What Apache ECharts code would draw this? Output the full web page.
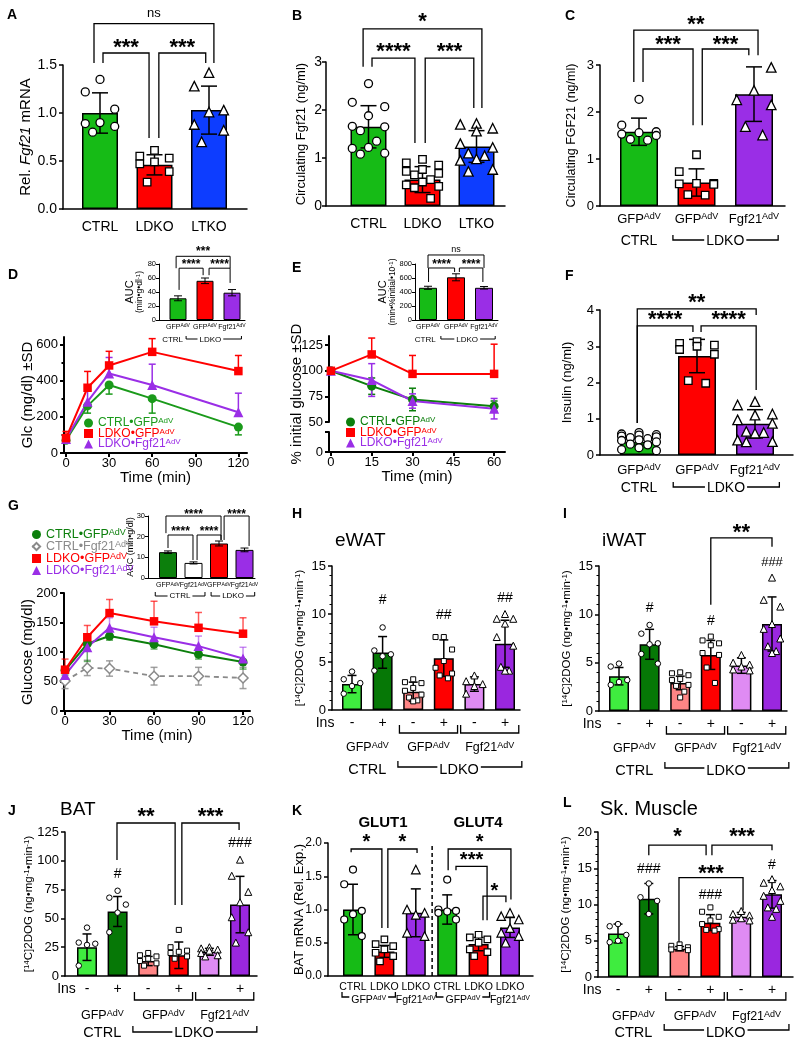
<!DOCTYPE html>
<html>
<head>
<meta charset="utf-8">
<title>Fgf21 panels</title>
<script src="https://cdn.jsdelivr.net/npm/echarts@6.0.0/dist/echarts.min.js"></script>
<style>
html, body { margin: 0; padding: 0; background: #fff; }
#chart { width: 802px; height: 1050px; }
</style>
</head>
<body>
<div id="chart"></div>
<script>
// ---------- values ----------
// A  Rel. Fgf21 mRNA
const aGroups = ['CTRL', 'LDKO', 'LTKO']
const aMean = [1.0, 0.46, 1.03]
const aSD = [0.21, 0.105, 0.25]
const aPts = [
  [1.35, 1.22, 1.04, 0.9, 0.89, 0.86, 0.8],
  [0.61, 0.55, 0.53, 0.49, 0.47, 0.39, 0.28],
  [1.42, 1.28, 1.03, 1.01, 0.88, 0.82, 0.7]
]
// B  circulating Fgf21
const bGroups = ['CTRL', 'LDKO', 'LTKO']
const bMean = [1.65, 0.55, 1.24]
const bSD = [0.44, 0.27, 0.33]
const bPts = [
  [2.55, 2.16, 2.07, 1.88, 1.66, 1.65, 1.57, 1.35, 1.22, 1.2, 1.1, 1.08],
  [0.97, 0.9, 0.85, 0.76, 0.72, 0.68, 0.65, 0.55, 0.5, 0.44, 0.41, 0.38, 0.16],
  [1.72, 1.7, 1.62, 1.56, 1.3, 1.22, 1.1, 1.05, 0.98, 0.95, 0.76, 0.72]
]
// C  circulating FGF21 after AdV
const cVectors = ['GFP', 'GFP', 'Fgf21']
const cMean = [1.58, 0.5, 2.38]
const cSD = [0.29, 0.29, 0.58]
const cPts = [
  [2.27, 1.72, 1.58, 1.56, 1.53, 1.5, 1.42, 1.4],
  [1.09, 0.73, 0.48, 0.48, 0.47, 0.46, 0.24, 0.23],
  [3.04, 3.04, 2.95, 2.46, 2.26, 2.15, 1.69, 1.51]
]
// D  GTT
const dTimes = [0, 15, 30, 60, 120]
const dCtrl = [70, 260, 375, 300, 143]
const dCtrlSD = [15, 40, 50, 80, 43]
const dLdko = [82, 360, 483, 558, 452]
const dLdkoSD = [37, 90, 78, 73, 86]
const dFgf = [77, 283, 439, 375, 225]
const dFgfSD = [20, 60, 88, 115, 105]
const dAUC = [31, 56, 39]
const dAUCsd = [3.5, 4, 4.5]
// E  ITT
const eTimes = [0, 15, 30, 60]
const eCtrl = [100, 85, 72, 65.5]
const eCtrlSD = [0, 8, 11, 5]
const eLdko = [100, 116, 97, 97]
const eLdkoSD = [0, 16, 18, 29]
const eFgf = [100, 91, 70.5, 63]
const eFgfSD = [0, 16, 7, 10]
const eAUC = [460, 610, 460]
const eAUCsd = [22, 50, 18]
// F  insulin
const fMean = [0.36, 2.73, 0.86]
const fSD = [0.09, 0.46, 0.39]
const fPts = [
  [0.62, 0.58, 0.56, 0.55, 0.52, 0.5, 0.48, 0.45, 0.42, 0.4, 0.36, 0.3, 0.28, 0.2, 0.15, 0.12],
  [3.13, 3.08, 3.03, 3.0, 2.91, 2.78, 2.05, 1.98],
  [1.47, 1.38, 1.13, 1.1, 0.97, 0.87, 0.65, 0.62, 0.6, 0.41, 0.37, 0.36]
]
// G  GTT with CTRL Fgf21
const gTimes = [0, 15, 30, 60, 90, 120]
const gCtrl = [69, 114, 127, 113, 96, 83]
const gCtrlSD = [8, 30, 7, 8, 8, 12]
const gCtrlF = [51, 73, 72, 59, 59, 56]
const gCtrlFSD = [13, 13, 13, 15, 15, 18]
const gLdko = [70, 125, 166, 152, 141, 131]
const gLdkoSD = [18, 20, 23, 34, 26, 27]
const gFgf = [61, 108, 141, 125, 110, 89]
const gFgfSD = [10, 20, 17, 17, 17, 19]
const gAUC = [12.5, 7.3, 16.7, 13.6]
const gAUCsd = [0.6, 0.5, 1.2, 0.9]
const gVectors = ['GFP', 'Fgf21', 'GFP', 'Fgf21']
// H-L  2DOG uptake, order: CTRL GFP -/+, LDKO GFP -/+, LDKO Fgf21 -/+
const insSigns = ['-', '+', '-', '+', '-', '+']
const vecLabels = ['GFP', 'GFP', 'Fgf21']
const hMean = [2.7, 6.0, 1.9, 5.4, 2.7, 6.9]
const hSD = [0.9, 1.65, 1.0, 1.9, 0.75, 2.45]
const hPts = [
  [4.0, 3.2, 2.8, 2.5, 1.7],
  [8.6, 6.2, 5.8, 5.6, 4.1],
  [3.2, 2.9, 2.8, 2.3, 2.0, 1.6, 1.3, 1.0, 0.9],
  [7.6, 7.6, 6.3, 5.1, 4.4, 3.8, 3.6, 3.3],
  [3.6, 3.0, 2.7, 2.5, 1.7],
  [10.0, 9.5, 9.5, 9.0, 7.6, 6.7, 4.5, 4.1, 4.1]
]
const iMean = [3.6, 6.9, 2.9, 5.8, 4.7, 9.0]
const iSD = [0.9, 1.55, 0.7, 1.5, 0.8, 2.8]
const iPts = [
  [4.9, 4.6, 3.2, 3.0, 2.7],
  [8.9, 8.0, 7.0, 6.9, 5.9, 4.9],
  [4.0, 3.9, 3.7, 3.3, 3.2, 2.7, 2.6, 2.0, 1.4],
  [7.7, 7.3, 7.0, 6.8, 6.0, 5.8, 4.5, 2.9],
  [5.8, 5.0, 4.8, 4.6, 4.3, 4.2],
  [13.8, 11.5, 10.8, 9.0, 8.5, 7.5, 6.7, 6.2, 6.0]
]
const jMean = [25, 56, 13, 18, 21, 62]
const jSD = [11.5, 13, 4, 11.5, 3, 24.5]
const jPts = [
  [42, 29, 28, 27, 9],
  [74, 68, 62, 55, 38],
  [20, 18, 17, 15, 13, 11, 9],
  [40, 25, 22, 21, 20, 17, 15],
  [25, 24, 23, 22, 20, 18, 17],
  [101, 87, 73, 64, 51, 38, 29]
]
// K  BAT mRNA, GLUT1 then GLUT4
const kGeno = ['CTRL', 'LDKO', 'LDKO', 'CTRL', 'LDKO', 'LDKO']
const kMean = [1.0, 0.37, 0.95, 1.0, 0.48, 0.73]
const kSD = [0.38, 0.09, 0.36, 0.22, 0.1, 0.15]
const kPts = [
  [1.6, 1.38, 0.98, 0.93, 0.85, 0.6],
  [0.55, 0.48, 0.45, 0.4, 0.35, 0.3, 0.22],
  [1.6, 1.0, 0.95, 0.92, 0.65, 0.6],
  [1.45, 1.0, 0.98, 0.97, 0.95, 0.85],
  [0.62, 0.58, 0.55, 0.5, 0.4, 0.36, 0.3],
  [0.95, 0.9, 0.85, 0.72, 0.65, 0.6, 0.5]
]
const lMean = [6.0, 10.8, 3.9, 7.5, 8.3, 11.4]
const lSD = [1.3, 2.1, 0.3, 1.1, 0.6, 1.9]
const lPts = [
  [7.3, 7.0, 5.8, 5.0, 4.8],
  [12.9, 11.0, 10.5, 8.7],
  [4.5, 4.3, 4.1, 4.0, 3.8, 3.7],
  [9.6, 9.0, 8.3, 7.8, 7.3, 6.6, 6.5, 6.4],
  [9.1, 8.7, 8.5, 8.1, 7.9, 7.8],
  [13.5, 13.0, 12.5, 12.0, 11.2, 10.5, 9.6, 9.4, 8.3]
]
const legD = ['CTRL•GFP', 'LDKO•GFP', 'LDKO•Fgf21']
const legG = ['CTRL•GFP', 'CTRL•Fgf21', 'LDKO•GFP', 'LDKO•Fgf21']

// ---------- styles ----------
const FONT = '"Liberation Sans", Arial, Helvetica, sans-serif'
const GREEN = '#16bb16'
const RED = '#ff0000'
const BLUE = '#0d3dff'
const PURPLE = '#9a2ee6'
const LINE_GREEN = '#1a9a1a'
const DARK_GREEN = '#0c7f0c'
const GREY = '#8a8a8a'
const SIX = ['#3fec3f', '#067806', '#ff8585', '#ff0000', '#df8bf3', '#9a27df']
const SIX_SYM = ['circle', 'circle', 'rect', 'rect', 'triangle', 'triangle']
// horizontal scatter pattern for the dot plots
const JIT = [0, -1, 1, 0, -1, 1, -0.5, 0.5, 0, -1, 1, -0.5, 0.5, 0, -1, 1]
const SUP = { fontSize: 8, verticalAlign: 'top', fontFamily: FONT, color: '#000' }

const option = {
  animation: false,
  backgroundColor: '#fff',
  textStyle: { fontFamily: FONT },
  grid: [], xAxis: [], yAxis: [], series: [], legend: [], graphic: []
}

function addGrid (l, t, r, b) {
  option.grid.push({ left: l, top: t, width: r - l, height: b - t, containLabel: false, outerBoundsMode: 'none' })
  return option.grid.length - 1
}

function valueAxis (gi, min, max, o) {
  const lw = o.lw || 1.5
  const hasTicks = !!(o.ticks || o.interval)
  const ax = {
    type: 'value', gridIndex: gi, min: min, max: max,
    axisLine: { show: !o.noLine, onZero: false, lineStyle: { color: '#000', width: lw } },
    axisTick: { show: hasTicks, length: o.tl || 4, lineStyle: { color: '#000', width: lw } },
    axisLabel: {
      show: hasTicks && !o.noLabel, color: '#000', fontSize: o.fs || 13, fontFamily: FONT,
      margin: o.lm != null ? o.lm : 6, showMinLabel: true, showMaxLabel: true, hideOverlap: false
    },
    splitLine: { show: false },
    splitArea: { show: false }
  }
  if (o.fmt) ax.axisLabel.formatter = o.fmt
  if (o.interval) ax.interval = o.interval
  if (o.ticks) {
    ax.axisTick.customValues = o.ticks
    ax.axisLabel.customValues = o.ticks
  }
  if (o.minor) ax.minorTick = { show: true, splitNumber: o.minor, length: 2.5, lineStyle: { color: '#000', width: 1 } }
  if (o.name) {
    ax.name = o.name
    ax.nameLocation = 'middle'
    ax.nameGap = o.gap
    ax.nameMoveOverlap = false
    ax.nameTextStyle = { color: '#000', fontSize: o.nfs, fontFamily: FONT, rich: o.rich || {} }
  }
  if (o.hidden) ax.show = false
  return ax
}
function addX (gi, min, max, o) {
  const ax = valueAxis(gi, min, max, o || {})
  ax.position = 'bottom'
  option.xAxis.push(ax)
  return option.xAxis.length - 1
}
function addY (gi, min, max, o) {
  const ax = valueAxis(gi, min, max, o || {})
  ax.position = 'left'
  option.yAxis.push(ax)
  return option.yAxis.length - 1
}

// error bars: rows are [x, from, to]; cap at "to", and at "from" too when both
function errSeries (xi, yi, rows, o) {
  option.series.push({
    type: 'custom', xAxisIndex: xi, yAxisIndex: yi, silent: true, clip: false, z: o.z || 3,
    data: rows,
    encode: { x: 0, y: [1, 2] },
    renderItem: function (params, api) {
      const x = api.value(0)
      const a = api.coord([x, api.value(1)])
      const b = api.coord([x, api.value(2)])
      const h = o.cap / 2
      const st = { stroke: o.color || '#000', lineWidth: o.lw || 1.5, opacity: o.op || 1 }
      const ch = [
        { type: 'line', shape: { x1: a[0], y1: a[1], x2: b[0], y2: b[1] }, style: st },
        { type: 'line', shape: { x1: b[0] - h, y1: b[1], x2: b[0] + h, y2: b[1] }, style: st }
      ]
      if (o.both) ch.push({ type: 'line', shape: { x1: a[0] - h, y1: a[1], x2: a[0] + h, y2: a[1] }, style: st })
      return { type: 'group', children: ch }
    }
  })
}

function starShift (t, fs) {
  return /\*/.test(t) ? 0.23 * fs : 0
}

function textEl (x, y, t, fs, o) {
  o = o || {}
  return {
    type: 'text', x: x, y: y, z2: 10,
    style: {
      text: t, fill: '#000', fontSize: fs, fontFamily: FONT, fontWeight: o.bold ? 'bold' : 'normal',
      align: o.align || 'center', verticalAlign: 'middle',
      backgroundColor: o.bg ? '#fff' : null, padding: o.bg ? [0, 2] : 0,
      rich: { s: { fontSize: Math.max(5, Math.round(fs * 0.7)), fill: '#000', fontFamily: FONT, verticalAlign: 'top' } }
    }
  }
}

// brackets, stars, hashes and the category rows under the axis
function annotate (xi, yi, ymin, notes) {
  option.series.push({
    type: 'custom', xAxisIndex: xi, yAxisIndex: yi, silent: true, clip: false, z: 6,
    data: notes.map(n => [n.x != null ? n.x : n.x1, ymin]),
    renderItem: function (params, api) {
      const n = notes[params.dataIndex]
      const P = (x, y) => api.coord([x, y])
      const base = P(0, ymin)[1]
      const st = { stroke: '#000', lineWidth: n.lw || 1.3, fill: 'none' }
      if (n.k === 'br') {
        const pts = [P(n.x1, n.d1), P(n.x1, n.y), P(n.x2, n.y), P(n.x2, n.d2)]
        const ch = [{ type: 'polyline', shape: { points: pts }, style: st }]
        if (n.t) {
          ch.push(textEl((pts[1][0] + pts[2][0]) / 2, P(0, n.ty)[1] + starShift(n.t, n.fs), n.t, n.fs, { bold: /\*/.test(n.t) }))
        }
        return { type: 'group', children: ch }
      }
      if (n.k === 'grp') {
        const y = base + n.dy
        const a = P(n.x1, ymin)[0]
        const b = P(n.x2, ymin)[0]
        return { type: 'polyline', z2: 1, shape: { points: [[a, y - n.h], [a, y], [b, y], [b, y - n.h]] }, style: st }
      }
      if (n.k === 'vl') {
        const a = P(n.x, n.y1)
        const b = P(n.x, n.y2)
        return { type: 'line', shape: { x1: a[0], y1: a[1], x2: b[0], y2: b[1] }, style: { stroke: '#000', lineWidth: 1.5, lineDash: [4, 3] } }
      }
      const p = P(n.x, n.y != null ? n.y : ymin)
      const y = n.dy != null ? base + n.dy : p[1]
      return textEl(p[0], y + starShift(n.t, n.fs), n.t, n.fs, n)
    }
  })
}

// bar + dot panel on a value x axis: bar i sits at x = i
function barPanel (p) {
  const gi = addGrid(p.l, p.t, p.r, p.b)
  const xi = addX(gi, (p.l - p.c0) / p.sp, (p.r - p.c0) / p.sp, { lw: p.lw })
  const yi = addY(gi, p.y.min, p.y.max, Object.assign({ lw: p.lw }, p.y))
  option.series.push({
    type: 'bar', xAxisIndex: xi, yAxisIndex: yi, barWidth: p.bw, silent: true, z: 2,
    itemStyle: { borderColor: '#000', borderWidth: p.lw || 1.5 },
    data: p.means.map((m, i) => ({ value: [i, m], itemStyle: { color: p.colors[i] } }))
  })
  errSeries(xi, yi, p.means.map((m, i) => [i, m - p.sds[i], m + p.sds[i]]), { cap: p.cap, both: true, lw: p.lw, z: 3 })
  if (p.pts) {
    p.pts.forEach((vals, i) => {
      const sym = p.syms[i]
      option.series.push({
        type: 'scatter', xAxisIndex: xi, yAxisIndex: yi, symbol: sym,
        symbolSize: sym === 'triangle' ? p.ss + 1.5 : sym === 'rect' ? p.ss - 0.5 : p.ss,
        silent: true, z: 4,
        itemStyle: { color: '#fff', borderColor: '#000', borderWidth: p.plw || 1.3, opacity: 1 },
        data: vals.map((v, j) => [i + JIT[j % JIT.length] * p.jit, v])
      })
    })
  }
  annotate(xi, yi, p.y.min, p.notes || [])
  return { xi: xi, yi: yi }
}

function lineSeries (xi, yi, name, xs, ys, o) {
  option.series.push({
    type: 'line', name: name, xAxisIndex: xi, yAxisIndex: yi, silent: true, z: 4, clip: false,
    symbol: o.sym, symbolSize: o.ss, color: o.color,
    lineStyle: { color: o.color, width: o.lw || 2, type: o.dash ? [5, 4] : 'solid' },
    itemStyle: o.item || { color: o.color },
    data: xs.map((x, i) => [x, ys[i]])
  })
}
function lineErr (xi, yi, xs, ys, sd, dir, o) {
  const rows = xs.map((x, i) => dir === 'up' ? [x, ys[i], ys[i] + sd[i]]
    : dir === 'down' ? [x, ys[i], ys[i] - sd[i]] : [x, ys[i] - sd[i], ys[i] + sd[i]])
  errSeries(xi, yi, rows, Object.assign({ both: dir === 'both', z: 3, cap: 7 }, o))
}

function addLegend (left, top, gap, fs, items) {
  const rich = {}
  items.forEach((it, k) => {
    rich['a' + k] = { color: it.color, fontSize: fs, fontFamily: FONT }
    rich['b' + k] = { color: it.color, fontSize: Math.round(fs * 0.7), fontFamily: FONT, verticalAlign: 'top' }
  })
  option.legend.push({
    left: left, top: top, orient: 'vertical', itemGap: gap, itemWidth: 9, itemHeight: 9, padding: 0,
    selectedMode: false,
    data: items.map(it => it.icon ? { name: it.name, icon: it.icon } : { name: it.name }),
    formatter: function (name) {
      const k = items.findIndex(it => it.name === name)
      return '{a' + k + '|' + items[k].text + '}{b' + k + '|AdV}'
    },
    textStyle: { fontSize: fs, fontFamily: FONT, rich: rich }
  })
}

function sixRows (notes, o) {
  notes.push({ x: o.insX, dy: o.dyIns, t: 'Ins', fs: 14 })
  insSigns.forEach((s, i) => notes.push({ x: i, dy: o.dyIns, t: s, fs: 14 }))
  notes.push({ k: 'grp', x1: 1.55, x2: 3.45, dy: o.dyPair, h: 8 })
  notes.push({ k: 'grp', x1: 3.55, x2: 5.45, dy: o.dyPair, h: 8 })
  vecLabels.forEach((v, k) => notes.push({ x: 2 * k + 0.5, dy: o.dyVec, t: v + '{s|AdV}', fs: 12.5 }))
  notes.push({ x: 0.5, dy: o.dyGrp, t: 'CTRL', fs: 14.5 })
  notes.push({ k: 'grp', x1: 1.5, x2: 5.55, dy: o.dyGrpLine, h: 6 })
  notes.push({ x: 3.5, dy: o.dyGrp, t: 'LDKO', fs: 14.5, bg: true })
  return notes
}

const dogName = '[{s|14}C]2DOG (ng•mg{s|-1}•min{s|-1})'
const dogRich = { s: SUP }
const fmt1 = v => v.toFixed(1)
const aucRich = {
  a: { fontSize: 11, fontFamily: FONT, color: '#000', lineHeight: 11 },
  b: { fontSize: 8.5, fontFamily: FONT, color: '#000', lineHeight: 10 },
  c: { fontSize: 6, fontFamily: FONT, color: '#000', verticalAlign: 'top' }
}

// ---------- A ----------
barPanel({
  l: 63, t: 65, r: 247, b: 209, c0: 100, sp: 54.5,
  y: { min: 0, max: 1.5, interval: 0.5, fmt: fmt1, fs: 14, name: 'Rel. {i|Fgf21} mRNA', nfs: 15, gap: 30,
    rich: { i: { fontStyle: 'italic', fontSize: 15, fontFamily: FONT, color: '#000' } } },
  means: aMean, sds: aSD, pts: aPts, colors: [GREEN, RED, BLUE], syms: ['circle', 'rect', 'triangle'],
  bw: 36, ss: 8, cap: 16, jit: 0.27,
  notes: [
    { k: 'br', x1: -0.11, x2: 2.09, y: 1.93, d1: 1.52, d2: 1.52, t: 'ns', ty: 2.04, fs: 13 },
    { k: 'br', x1: 0.055, x2: 0.9, y: 1.625, d1: 1.52, d2: 0.74, t: '***', ty: 1.73, fs: 22 },
    { k: 'br', x1: 1.08, x2: 1.94, y: 1.625, d1: 0.74, d2: 1.52, t: '***', ty: 1.73, fs: 22 }
  ].concat(aGroups.map((g, i) => ({ x: i, dy: 18, t: g, fs: 14 })))
})

// ---------- B ----------
barPanel({
  l: 326, t: 62, r: 505, b: 206, c0: 368.5, sp: 54,
  y: { min: 0, max: 3, interval: 1, fs: 14, name: 'Circulating Fgf21 (ng/ml)', nfs: 13, gap: 18, lm: 4 },
  means: bMean, sds: bSD, pts: bPts, colors: [GREEN, RED, BLUE], syms: ['circle', 'rect', 'triangle'],
  bw: 36, ss: 8, cap: 16, jit: 0.3,
  notes: [
    { k: 'br', x1: -0.1, x2: 2.1, y: 3.69, d1: 2.9, d2: 2.04, t: '*', ty: 3.94, fs: 22 },
    { k: 'br', x1: 0.065, x2: 0.86, y: 3.08, d1: 2.9, d2: 1.31, t: '****', ty: 3.31, fs: 22 },
    { k: 'br', x1: 1.05, x2: 1.95, y: 3.08, d1: 1.31, d2: 2.04, t: '***', ty: 3.31, fs: 22 }
  ].concat(bGroups.map((g, i) => ({ x: i, dy: 18, t: g, fs: 14 })))
})

// ---------- C ----------
barPanel({
  l: 600, t: 65, r: 785, b: 206, c0: 639, sp: 57.5,
  y: { min: 0, max: 3, interval: 1, fs: 13, name: 'Circulating FGF21 (ng/ml)', nfs: 12.5, gap: 22 },
  means: cMean, sds: cSD, pts: cPts, colors: [GREEN, RED, PURPLE], syms: ['circle', 'rect', 'triangle'],
  bw: 38, ss: 8, cap: 16, jit: 0.3,
  notes: [
    { k: 'br', x1: -0.09, x2: 2.07, y: 3.74, d1: 2.64, d2: 3.21, t: '**', ty: 3.96, fs: 22 },
    { k: 'br', x1: 0.07, x2: 0.94, y: 3.34, d1: 2.64, d2: 1.72, t: '***', ty: 3.53, fs: 22 },
    { k: 'br', x1: 1.1, x2: 1.91, y: 3.34, d1: 1.72, d2: 3.21, t: '***', ty: 3.53, fs: 22 },
    { x: 0, dy: 35, t: 'CTRL', fs: 14 },
    { k: 'grp', x1: 0.59, x2: 2.42, dy: 34, h: 5 },
    { x: 1.5, dy: 35, t: 'LDKO', fs: 14, bg: true }
  ].concat(cVectors.map((v, i) => ({ x: i, dy: 13, t: v + '{s|AdV}', fs: 13 })))
})

// ---------- D ----------
const gD = addGrid(64, 337, 247, 453)
const xD = addX(gD, -1.4, 126, { ticks: [0, 30, 60, 90, 120], lw: 2, fs: 13, lm: 4, name: 'Time (min)', gap: 17, nfs: 15 })
const yD = addY(gD, 0, 640, { ticks: [0, 200, 400, 600], lw: 2, fs: 13, lm: 6, name: 'Glc (mg/dl) ±SD', gap: 29, nfs: 15 })
addY(gD, 0, 640, { ticks: [100, 300, 500], lw: 2, tl: 2.5, noLine: true, noLabel: true })
lineErr(xD, yD, dTimes, dCtrl, dCtrlSD, 'down', { color: LINE_GREEN })
lineErr(xD, yD, dTimes, dFgf, dFgfSD, 'up', { color: PURPLE })
lineErr(xD, yD, dTimes, dLdko, dLdkoSD, 'up', { color: RED })
lineSeries(xD, yD, 'dCtrl', dTimes, dCtrl, { sym: 'circle', ss: 9, color: LINE_GREEN })
lineSeries(xD, yD, 'dFgf', dTimes, dFgf, { sym: 'triangle', ss: 10, color: PURPLE })
lineSeries(xD, yD, 'dLdko', dTimes, dLdko, { sym: 'rect', ss: 8.5, color: RED })
addLegend(84, 417, -1.5, 12, [
  { name: 'dCtrl', text: legD[0], color: LINE_GREEN, icon: 'circle' },
  { name: 'dLdko', text: legD[1], color: RED, icon: 'rect' },
  { name: 'dFgf', text: legD[2], color: PURPLE, icon: 'triangle' }
])
barPanel({
  l: 159, t: 264, r: 245, b: 320, c0: 178, sp: 27, lw: 1,
  y: { min: 0, max: 80, interval: 20, fs: 7.5, lm: 3, tl: 3, gap: 14, nfs: 11,
    name: '{a|AUC}\n{b|(min•g•dl}{c|-1}{b|)}', rich: aucRich },
  means: dAUC, sds: dAUCsd, colors: [GREEN, RED, PURPLE], bw: 17, cap: 8,
  notes: [
    { k: 'br', x1: -0.07, x2: 1.93, y: 91, d1: 74, d2: 74, t: '***', ty: 101, fs: 12, lw: 1 },
    { k: 'br', x1: 0.04, x2: 0.93, y: 74, d1: 43, d2: 64, t: '****', ty: 83, fs: 12, lw: 1 },
    { k: 'br', x1: 1.15, x2: 1.93, y: 74, d1: 64, d2: 53, t: '****', ty: 83, fs: 12, lw: 1 },
    { x: -0.2, dy: 19.5, t: 'CTRL', fs: 8 },
    { k: 'grp', x1: 0.3, x2: 2.35, dy: 19, h: 3, lw: 1 },
    { x: 1.2, dy: 19.5, t: 'LDKO', fs: 8, bg: true }
  ].concat(cVectors.map((v, i) => ({ x: i, dy: 7, t: v + '{s|AdV}', fs: 7 })))
})

// ---------- E (broken y axis) ----------
const gEu = addGrid(329, 336, 505, 422)
const gEl = addGrid(329, 432, 505, 452)
const xEu = addX(gEu, -0.7, 64, { hidden: true })
addX(gEl, -0.7, 64, { ticks: [0, 15, 30, 45, 60], lw: 2, fs: 13, lm: 4, name: 'Time (min)', gap: 17, nfs: 15 })
const yEu = addY(gEu, 50, 134, { ticks: [50, 75, 100, 125], lw: 2, fs: 13, lm: 6 })
addY(gEl, 0, 48, { ticks: [0, 25, 48], lw: 2, fs: 13, lm: 6, fmt: v => v === 48 ? '' : String(v) })
lineErr(xEu, yEu, eTimes, eCtrl, eCtrlSD, 'both', { color: DARK_GREEN })
lineErr(xEu, yEu, eTimes, eFgf, eFgfSD, 'both', { color: PURPLE })
lineErr(xEu, yEu, eTimes, eLdko, eLdkoSD, 'up', { color: RED })
lineSeries(xEu, yEu, 'eCtrl', eTimes, eCtrl, { sym: 'circle', ss: 9, color: DARK_GREEN })
lineSeries(xEu, yEu, 'eFgf', eTimes, eFgf, { sym: 'triangle', ss: 10, color: PURPLE })
lineSeries(xEu, yEu, 'eLdko', eTimes, eLdko, { sym: 'rect', ss: 8.5, color: RED })
addLegend(346, 416, -1.5, 12, [
  { name: 'eCtrl', text: legD[0], color: DARK_GREEN, icon: 'circle' },
  { name: 'eLdko', text: legD[1], color: RED, icon: 'rect' },
  { name: 'eFgf', text: legD[2], color: PURPLE, icon: 'triangle' }
])
barPanel({
  l: 415, t: 264, r: 498, b: 320, c0: 428, sp: 28, lw: 1,
  y: { min: 0, max: 800, interval: 200, fs: 7.5, lm: 3, tl: 3, gap: 17, nfs: 11,
    name: '{a|AUC}\n{b|(min•%initial•10}{c|-1}{b|)}', rich: aucRich },
  means: eAUC, sds: eAUCsd, colors: [GREEN, RED, PURPLE], bw: 18, cap: 8,
  notes: [
    { k: 'br', x1: 0, x2: 2, y: 929, d1: 743, d2: 743, t: 'ns', ty: 1000, fs: 9, lw: 1 },
    { k: 'br', x1: 0.02, x2: 0.95, y: 743, d1: 543, d2: 686, t: '****', ty: 829, fs: 12, lw: 1 },
    { k: 'br', x1: 1.12, x2: 1.96, y: 743, d1: 686, d2: 543, t: '****', ty: 829, fs: 12, lw: 1 },
    { x: -0.1, dy: 19.5, t: 'CTRL', fs: 8 },
    { k: 'grp', x1: 0.46, x2: 2.4, dy: 19, h: 3, lw: 1 },
    { x: 1.4, dy: 19.5, t: 'LDKO', fs: 8, bg: true }
  ].concat(cVectors.map((v, i) => ({ x: i, dy: 7, t: v + '{s|AdV}', fs: 7 })))
})

// ---------- F ----------
barPanel({
  l: 600, t: 310, r: 793, b: 455, c0: 639, sp: 58,
  y: { min: 0, max: 4, interval: 1, fs: 13, name: 'Insulin (ng/ml)', nfs: 13, gap: 26 },
  means: fMean, sds: fSD, pts: fPts, colors: [GREEN, RED, PURPLE], syms: ['circle', 'rect', 'triangle'],
  bw: 38, ss: 8, cap: 16, jit: 0.3,
  notes: [
    { k: 'br', x1: -0.03, x2: 2.02, y: 4.03, d1: 0.88, d2: 3.86, t: '**', ty: 4.33, fs: 22 },
    { k: 'br', x1: -0.03, x2: 0.93, y: 3.56, d1: 0.88, d2: 3.39, t: '****', ty: 3.86, fs: 22 },
    { k: 'br', x1: 1.07, x2: 2.02, y: 3.56, d1: 3.39, d2: 1.79, t: '****', ty: 3.86, fs: 22 },
    { x: 0, dy: 33, t: 'CTRL', fs: 14 },
    { k: 'grp', x1: 0.59, x2: 2.42, dy: 32, h: 5 },
    { x: 1.5, dy: 33, t: 'LDKO', fs: 14, bg: true }
  ].concat(cVectors.map((v, i) => ({ x: i, dy: 15, t: v + '{s|AdV}', fs: 13 })))
})

// ---------- G ----------
const gG = addGrid(64, 593, 250, 711)
const xG = addX(gG, -0.7, 124.7, { ticks: [0, 30, 60, 90, 120], lw: 2, fs: 13, lm: 4, name: 'Time (min)', gap: 17, nfs: 15 })
const yG = addY(gG, 0, 200, { interval: 50, lw: 2, fs: 13, lm: 6, name: 'Glucose (mg/dl)', gap: 29, nfs: 15 })
lineErr(xG, yG, gTimes, gCtrlF, gCtrlFSD, 'both', { color: GREY, op: 0.8 })
lineErr(xG, yG, gTimes, gCtrl, gCtrlSD, 'down', { color: DARK_GREEN, op: 0.6 })
lineErr(xG, yG, gTimes, gFgf, gFgfSD, 'up', { color: PURPLE, op: 0.55 })
lineErr(xG, yG, gTimes, gLdko, gLdkoSD, 'up', { color: RED, op: 0.65 })
lineSeries(xG, yG, 'gCtrlF', gTimes, gCtrlF, { sym: 'diamond', ss: 10, color: GREY, dash: true, lw: 1.8,
  item: { color: '#fff', borderColor: GREY, borderWidth: 1.5 } })
lineSeries(xG, yG, 'gCtrl', gTimes, gCtrl, { sym: 'circle', ss: 9, color: DARK_GREEN })
lineSeries(xG, yG, 'gFgf', gTimes, gFgf, { sym: 'triangle', ss: 10, color: PURPLE })
lineSeries(xG, yG, 'gLdko', gTimes, gLdko, { sym: 'rect', ss: 8.5, color: RED })
addLegend(31, 528, -1, 12.5, [
  { name: 'gCtrl', text: legG[0], color: DARK_GREEN, icon: 'circle' },
  { name: 'gCtrlF', text: legG[1], color: GREY },
  { name: 'gLdko', text: legG[2], color: RED, icon: 'rect' },
  { name: 'gFgf', text: legG[3], color: PURPLE, icon: 'triangle' }
])
barPanel({
  l: 148, t: 516, r: 255, b: 578, c0: 168, sp: 25.5, lw: 1,
  y: { min: 0, max: 30, interval: 10, fs: 7.5, lm: 3, tl: 3, gap: 13, nfs: 9, name: 'AUC (min•g/dl)' },
  means: gAUC, sds: gAUCsd, colors: [DARK_GREEN, '#ffffff', RED, PURPLE], bw: 18, cap: 8,
  notes: [
    { k: 'br', x1: -0.08, x2: 2.08, y: 30, d1: 21.7, d2: 18.4, t: '****', ty: 31.9, fs: 12, lw: 1 },
    { k: 'br', x1: 2.2, x2: 3.18, y: 30, d1: 18.4, d2: 15.5, t: '****', ty: 31.9, fs: 12, lw: 1 },
    { k: 'br', x1: 0, x2: 0.98, y: 20.8, d1: 14.5, d2: 8.7, t: '****', ty: 23.7, fs: 12, lw: 1 },
    { k: 'br', x1: 1.14, x2: 2.08, y: 20.8, d1: 8.7, d2: 18.4, t: '****', ty: 23.7, fs: 12, lw: 1 },
    { k: 'grp', x1: -0.5, x2: 1.45, dy: 18, h: 4, lw: 1 },
    { x: 0.47, dy: 18, t: 'CTRL', fs: 8, bg: true },
    { k: 'grp', x1: 1.69, x2: 3.4, dy: 18, h: 4, lw: 1 },
    { x: 2.55, dy: 18, t: 'LDKO', fs: 8, bg: true }
  ].concat(gVectors.map((v, i) => ({ x: i, dy: 7.5, t: v + '{s|AdV}', fs: 7 })))
})

// ---------- H ----------
barPanel({
  l: 332, t: 566, r: 520, b: 710, c0: 352, sp: 30.6,
  y: { min: 0, max: 15, interval: 5, minor: 5, fs: 13, name: dogName, rich: dogRich, nfs: 11.5, gap: 26 },
  means: hMean, sds: hSD, pts: hPts, colors: SIX, syms: SIX_SYM, bw: 20, ss: 5.5, plw: 1, cap: 9, jit: 0.27,
  notes: sixRows([
    { x: 1, y: 11.46, t: '#', fs: 14 },
    { x: 3, y: 9.9, t: '##', fs: 14 },
    { x: 5, y: 11.7, t: '##', fs: 14 }
  ], { insX: -0.88, dyIns: 13, dyPair: 23, dyVec: 38, dyGrp: 60, dyGrpLine: 57 })
})

// ---------- I ----------
barPanel({
  l: 599, t: 566, r: 787, b: 711, c0: 619, sp: 30.6,
  y: { min: 0, max: 15, interval: 5, minor: 5, fs: 13, name: dogName, rich: dogRich, nfs: 11.5, gap: 26 },
  means: iMean, sds: iSD, pts: iPts, colors: SIX, syms: SIX_SYM, bw: 20, ss: 5.5, plw: 1, cap: 9, jit: 0.27,
  notes: sixRows([
    { k: 'br', x1: 3.0, x2: 5.0, y: 17.9, d1: 11.0, d2: 17.0, t: '**', ty: 18.9, fs: 22 },
    { x: 1, y: 10.65, t: '#', fs: 14 },
    { x: 3, y: 9.3, t: '#', fs: 14 },
    { x: 5, y: 15.4, t: '###', fs: 13 }
  ], { insX: -0.88, dyIns: 13, dyPair: 23, dyVec: 38, dyGrp: 60, dyGrpLine: 57 })
})

// ---------- J ----------
barPanel({
  l: 65, t: 832, r: 257, b: 976, c0: 87, sp: 30.6,
  y: { min: 0, max: 125, interval: 25, fs: 13, name: dogName, rich: dogRich, nfs: 11.5, gap: 30 },
  means: jMean, sds: jSD, pts: jPts, colors: SIX, syms: SIX_SYM, bw: 20, ss: 5.5, plw: 1, cap: 9, jit: 0.27,
  notes: sixRows([
    { k: 'br', x1: 0.98, x2: 2.88, y: 132.8, d1: 100.7, d2: 61.6, t: '**', ty: 142.4, fs: 22 },
    { k: 'br', x1: 3.1, x2: 4.97, y: 132.8, d1: 61.6, d2: 126.7, t: '***', ty: 142.4, fs: 22 },
    { x: 1, y: 88.5, t: '#', fs: 14 },
    { x: 5, y: 115.5, t: '###', fs: 14 }
  ], { insX: -0.67, dyIns: 13, dyPair: 24, dyVec: 40, dyGrp: 57, dyGrpLine: 56 })
})

// ---------- K ----------
barPanel({
  l: 328, t: 843, r: 533, b: 976, c0: 353, sp: 31.4,
  y: { min: 0, max: 2, interval: 0.5, fmt: fmt1, fs: 12, name: 'BAT mRNA (Rel. Exp.)', nfs: 13, gap: 22 },
  means: kMean, sds: kSD, pts: kPts, colors: [GREEN, RED, PURPLE, GREEN, RED, PURPLE],
  syms: ['circle', 'rect', 'triangle', 'circle', 'rect', 'triangle'], bw: 20, ss: 7, plw: 1.2, cap: 10, jit: 0.28,
  notes: [
    { k: 'vl', x: 2.52, y1: 0, y2: 2.0 },
    { k: 'br', x1: -0.06, x2: 0.92, y: 1.91, d1: 1.86, d2: 0.72, t: '*', ty: 2.08, fs: 20 },
    { k: 'br', x1: 1.11, x2: 2.04, y: 1.91, d1: 0.72, d2: 1.85, t: '*', ty: 2.08, fs: 20 },
    { k: 'br', x1: 3.03, x2: 5.03, y: 1.91, d1: 1.59, d2: 1.15, t: '*', ty: 2.08, fs: 20 },
    { k: 'br', x1: 3.28, x2: 4.27, y: 1.65, d1: 1.59, d2: 0.84, t: '***', ty: 1.8, fs: 20 },
    { k: 'br', x1: 4.14, x2: 4.87, y: 1.2, d1: 0.84, d2: 1.11, t: '*', ty: 1.34, fs: 20 },
    { k: 'grp', x1: -0.35, x2: 1.35, dy: 21, h: 5 },
    { x: 0.5, dy: 24, t: 'GFP{s|AdV}', fs: 10.5, bg: true },
    { x: 2, dy: 24, t: 'Fgf21{s|AdV}', fs: 10.5 },
    { k: 'grp', x1: 2.65, x2: 4.35, dy: 21, h: 5 },
    { x: 3.5, dy: 24, t: 'GFP{s|AdV}', fs: 10.5, bg: true },
    { x: 5, dy: 24, t: 'Fgf21{s|AdV}', fs: 10.5 }
  ].concat(kGeno.map((g, i) => ({ x: i, dy: 11, t: g, fs: 10.5 })))
})

// ---------- L ----------
barPanel({
  l: 598, t: 832, r: 793, b: 977, c0: 618, sp: 30.8,
  y: { min: 0, max: 20, interval: 5, minor: 5, fs: 13, name: dogName, rich: dogRich, nfs: 11.5, gap: 26 },
  means: lMean, sds: lSD, pts: lPts, colors: SIX, syms: SIX_SYM, bw: 20, ss: 5.5, plw: 1, cap: 9, jit: 0.27,
  notes: sixRows([
    { k: 'br', x1: 1.0, x2: 2.86, y: 18.2, d1: 16.8, d2: 16.8, t: '*', ty: 20.0, fs: 22 },
    { k: 'br', x1: 3.05, x2: 5.0, y: 18.2, d1: 16.8, d2: 17.5, t: '***', ty: 20.0, fs: 22 },
    { k: 'br', x1: 1.98, x2: 4.06, y: 13.7, d1: 4.8, d2: 9.2, t: '***', ty: 14.9, fs: 22 },
    { x: 1, y: 14.9, t: '###', fs: 14 },
    { x: 3, y: 11.3, t: '###', fs: 14 },
    { x: 5, y: 15.4, t: '#', fs: 14 }
  ], { insX: -0.84, dyIns: 13, dyPair: 23, dyVec: 40, dyGrp: 56, dyGrpLine: 53 })
})

// ---------- panel letters and titles ----------
function label (x, y, t, fs, o) {
  o = o || {}
  option.graphic.push({
    type: 'text', x: x, y: y, silent: true, rotation: o.rot || 0,
    style: { text: t, fontSize: fs, fontWeight: o.bold ? 'bold' : 'normal', fontFamily: FONT, fill: '#000',
      align: o.align || 'left', verticalAlign: 'middle' }
  })
}
const letters = [['A', 7, 15], ['B', 292, 16], ['C', 565, 16], ['D', 8, 275], ['E', 292, 268], ['F', 565, 276],
  ['G', 8, 506], ['H', 292, 514], ['I', 563, 514], ['J', 8, 811], ['K', 292, 811], ['L', 563, 803]]
letters.forEach(l => label(l[1], l[2], l[0], 14, { bold: true }))
label(335, 541, 'eWAT', 19)
label(602, 541, 'iWAT', 19)
label(60, 810, 'BAT', 19)
label(600, 809, 'Sk. Muscle', 20)
label(383, 823, 'GLUT1', 15, { bold: true, align: 'center' })
label(478, 823, 'GLUT4', 15, { bold: true, align: 'center' })
label(297, 394, '% initial glucose ±SD', 15, { align: 'center', rot: Math.PI / 2 })

const chart = echarts.init(document.getElementById('chart'), null, { renderer: 'canvas' })
chart.setOption(option)
</script>
</body>
</html>
